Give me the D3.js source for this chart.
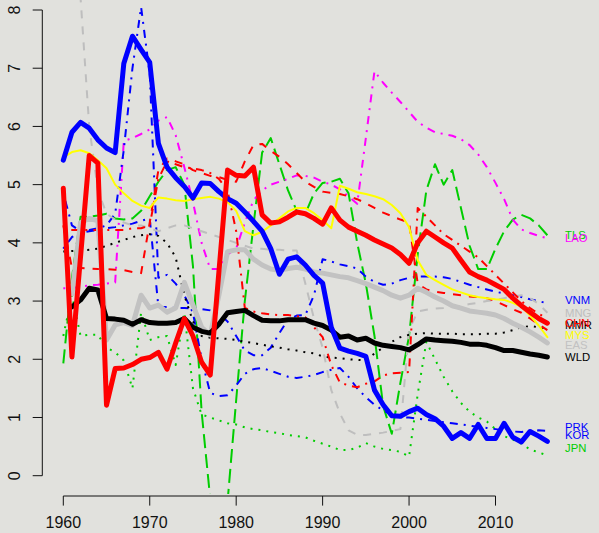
<!DOCTYPE html>
<html><head><meta charset="utf-8">
<script src="https://cdn.jsdelivr.net/npm/d3@7"></script>
<style>
html,body{margin:0;padding:0;background:#e1e1dd;}
svg{display:block;font-family:"Liberation Sans",Arial,sans-serif;}
</style></head><body>
<svg id="chart" width="599" height="533"></svg>
<script>
// years on the x axis
const years = d3.range(1960, 2017);
const xTicks = [1960, 1970, 1980, 1990, 2000, 2010];
const yTicks = [0, 1, 2, 3, 4, 5, 6, 7, 8];

// values, one per year 1960..2016
const TLS = [1.93,3.4,4.45,4.45,4.47,4.5,4.42,4.4,4.42,4.55,4.8,5.05,5.25,5.3,5.0,3.6,1.1,-0.4,-2.1,-0.45,
  1.3,3.0,4.3,5.55,5.8,5.35,4.9,4.55,4.5,4.85,5.03,5.05,5.1,4.85,4.0,3.3,2.4,1.2,0.72,1.6,
  2.4,3.8,4.9,5.35,5.0,5.25,4.6,3.95,3.55,3.55,3.9,4.2,4.4,4.48,4.42,4.3,4.13];
const LAO = [3.22,3.22,3.25,3.27,3.28,3.3,3.32,5.75,5.8,5.87,5.95,6.1,6.16,5.85,5.3,4.7,4.0,3.55,3.55,3.8,
  3.9,4.35,4.73,4.9,5.0,5.05,5.1,5.16,5.15,5.12,5.05,5.0,4.92,4.8,4.67,5.8,6.95,6.75,6.58,6.42,
  6.25,6.08,5.98,5.9,5.87,5.84,5.78,5.68,5.52,5.3,5.03,4.75,4.4,4.23,4.17,4.12,4.08];
const VNM = [3.9,4.1,4.17,4.2,4.22,4.25,4.27,4.3,4.33,4.38,4.42,2.9,2.9,2.88,2.88,2.87,2.86,2.84,2.78,2.65,
  2.4,2.15,2.07,2.07,2.2,2.45,2.68,2.75,2.76,3.1,3.72,3.68,3.63,3.6,3.56,3.42,3.33,3.28,3.3,3.36,
  3.4,3.42,3.42,3.42,3.41,3.38,3.33,3.28,3.24,3.2,3.16,3.13,3.1,3.07,3.03,3.0,2.96];
const PRK = [4.85,4.3,4.2,4.22,4.25,4.3,4.5,5.6,7.0,8.05,6.9,3.4,3.45,3.3,3.1,2.8,2.0,1.42,1.37,1.38,
  1.55,1.75,1.83,1.85,1.8,1.75,1.7,1.68,1.7,1.73,1.78,1.82,1.85,1.7,1.5,1.35,1.22,1.12,1.05,1.0,
  1.0,0.98,0.96,0.94,0.92,0.9,0.88,0.86,0.84,0.82,0.8,0.78,0.76,0.75,0.77,0.78,0.77];
const MNG = [11,9.5,8.2,6.0,4.9,4.5,4.4,4.35,4.3,4.3,4.25,4.2,4.25,4.3,4.3,4.25,4.2,4.15,4.1,4.05,
  4.0,3.95,3.9,3.9,3.88,3.88,3.87,3.87,3.3,2.7,2.2,1.47,1.07,0.78,0.7,0.7,0.72,0.74,0.77,0.8,
  2.5,2.82,2.85,2.87,2.88,2.9,2.92,2.95,2.97,3.0,3.02,3.05,3.08,3.1,3.05,2.95,2.8];
const MMR = [3.85,3.86,3.87,3.88,3.9,3.95,4.0,4.05,4.1,4.13,4.15,4.12,4.0,3.75,3.1,2.65,2.4,2.37,2.36,2.35,
  2.33,2.3,2.28,2.25,2.22,2.2,2.17,2.15,2.12,2.1,2.05,2.03,2.02,2.0,1.99,1.98,2.1,2.2,2.3,2.38,
  2.42,2.44,2.45,2.44,2.44,2.44,2.43,2.43,2.43,2.44,2.44,2.46,2.5,2.55,2.57,2.55,2.53];
const JPN = [2.4,3.1,2.4,2.42,2.42,2.2,2.12,1.98,1.5,2.8,2.33,2.38,2.4,1.9,2.8,1.5,1.05,1.0,0.95,0.9,
  0.88,0.83,0.8,0.78,0.75,0.73,0.7,0.68,0.66,0.6,0.55,0.5,0.44,0.44,0.48,0.56,0.5,0.46,0.44,0.41,
  0.33,1.4,2.3,2.0,1.7,1.45,1.25,1.1,1.0,0.93,0.8,0.68,0.62,0.55,0.45,0.4,0.35];
const RED_A = [4.3,3.57,3.57,3.56,3.55,3.55,3.54,3.53,3.5,3.48,4.35,5.25,5.45,5.4,5.35,5.25,5.2,5.15,5.13,5.08,
  5.05,5.4,5.68,5.7,5.58,5.48,5.35,5.2,5.05,4.96,4.88,4.86,4.84,4.8,4.75,4.68,4.6,4.52,4.46,4.4,
  4.35,3.3,3.2,3.16,3.14,3.12,3.1,3.08,3.07,3.05,3.0,2.93,2.86,2.8,2.7,2.6,2.5];
const RED_B = [4.22,4.22,4.22,4.22,4.22,4.22,4.22,4.22,4.25,4.25,4.3,5.1,5.4,5.35,5.3,5.28,5.25,5.2,5.1,4.9,
  4.2,2.88,2.82,2.79,2.77,2.76,2.76,2.74,2.72,2.55,2.38,1.9,1.6,1.55,1.52,1.58,1.62,1.72,1.76,1.77,
  1.78,4.6,4.45,4.3,4.15,4.05,3.95,3.85,3.75,3.6,3.45,3.3,3.15,3.0,2.88,2.78,2.7];
const EAS = [null,3.12,4.35,4.42,4.38,2.33,2.59,2.63,2.58,3.1,2.88,2.93,2.81,2.88,3.32,2.93,2.55,2.42,3.1,3.85,
  3.88,3.88,3.72,3.62,3.55,3.53,3.56,3.58,3.55,3.5,3.48,3.45,3.42,3.4,3.35,3.3,3.24,3.18,3.1,3.05,
  3.1,3.22,3.15,3.07,3.0,2.92,2.88,2.83,2.81,2.79,2.76,2.7,2.62,2.55,2.47,2.38,2.28];
const MYS = [5.47,5.56,5.59,5.54,5.42,5.28,5.0,4.85,4.72,4.64,4.6,4.78,4.76,4.73,4.72,4.75,4.77,4.79,4.76,4.7,
  4.55,4.2,4.13,4.19,4.3,4.42,4.54,4.6,4.6,4.51,4.39,4.25,4.98,4.93,4.87,4.84,4.8,4.75,4.65,4.51,
  4.27,3.7,3.45,3.36,3.28,3.2,3.15,3.1,3.07,3.05,3.03,3.02,2.97,2.9,2.75,2.58,2.38];
const WLD = [null,2.9,3.02,3.22,3.19,2.7,2.69,2.67,2.6,2.68,2.63,2.62,2.62,2.63,2.7,2.55,2.48,2.45,2.6,2.8,
  2.82,2.84,2.75,2.67,2.66,2.66,2.68,2.68,2.68,2.62,2.58,2.5,2.38,2.4,2.33,2.36,2.28,2.24,2.22,2.2,
  2.16,2.25,2.35,2.33,2.32,2.31,2.29,2.26,2.26,2.24,2.2,2.15,2.15,2.12,2.09,2.07,2.04];
const KOR = [5.42,5.9,6.07,5.97,5.77,5.63,5.55,7.08,7.55,7.32,7.1,5.71,5.3,5.12,4.97,4.77,5.03,5.02,4.88,4.76,
  4.68,4.53,4.37,4.2,3.9,3.46,3.72,3.76,3.62,3.44,3.31,2.55,2.19,2.14,2.1,2.05,1.47,1.22,1.03,1.02,
  1.1,1.16,1.05,0.98,0.85,0.64,0.74,0.64,0.88,0.64,0.64,0.9,0.66,0.58,0.76,0.68,0.59];
const CHN = [4.94,2.04,3.77,5.5,5.37,1.21,1.84,1.85,1.91,2.0,2.03,2.12,1.83,2.28,2.7,2.4,1.95,1.73,3.5,5.25,
  5.16,5.15,5.3,4.48,4.34,4.36,4.44,4.53,4.5,4.42,4.32,4.6,4.39,4.27,4.2,4.13,4.05,3.98,3.91,3.8,
  3.65,4.0,4.2,4.1,4.0,3.91,3.7,3.5,3.42,3.36,3.28,3.2,3.05,2.92,2.81,2.7,2.62];

// drawing order: thin lines first, thick aggregates on top
const series = [
  {name: 'TLS', values: TLS, color: '#00cd00', width: 2, dash: '14,6', label: true},
  {name: 'LAO', values: LAO, color: '#ff00ff', width: 2, dash: '2,6,8,6', label: true},
  {name: 'VNM', values: VNM, color: '#0000ff', width: 2, dash: '2,6,8,6', label: true},
  {name: 'PRK', values: PRK, color: '#0000ff', width: 2, dash: '2,6,8,6', label: true},
  {name: 'MNG', values: MNG, color: '#bebebe', width: 2, dash: '8,8', label: true},
  {name: 'MMR', values: MMR, color: '#000000', width: 2, dash: '2,6', label: true},
  {name: 'JPN', values: JPN, color: '#00cd00', width: 2, dash: '2,6', label: true},
  {name: 'RED_A', values: RED_A, color: '#ff0000', width: 2, dash: '8,8', label: false},
  {name: 'RED_B', values: RED_B, color: '#ff0000', width: 2, dash: '2,6,8,6', label: false},
  {name: 'EAS', values: EAS, color: '#c2c2c2', width: 5, dash: null, label: true},
  {name: 'MYS', values: MYS, color: '#ffff00', width: 2, dash: null, label: true},
  {name: 'WLD', values: WLD, color: '#000000', width: 5, dash: null, label: true},
  {name: 'KOR', values: KOR, color: '#0000ff', width: 5, dash: null, label: true},
  {name: 'CHN', values: CHN, color: '#ff0000', width: 5, dash: null, label: true}
];

// small vertical nudges (px) for end labels, as placed in the original
const labelNudge = {VNM: -3.5, MMR: -3, MYS: -2, EAS: 2.5, PRK: -3.5, KOR: -6, JPN: -7};

const svg = d3.select('#chart');
const x = d3.scaleLinear().domain([1960, 2010]).range([63.3, 495.5]);
const y = d3.scaleLinear().domain([0, 8]).range([475.7, 10]);

svg.append('defs').append('clipPath').attr('id', 'plot')
  .append('rect').attr('x', 44).attr('y', -10).attr('width', 522).attr('height', 504);

const line = d3.line()
  .defined(d => d.v != null)
  .x(d => x(d.year)).y(d => y(d.v));

const g = svg.append('g').attr('clip-path', 'url(#plot)');
series.forEach(s => {
  const pts = years.map((yr, i) => ({year: yr, v: s.values[i]}));
  g.append('path')
    .attr('d', line(pts))
    .attr('fill', 'none')
    .attr('stroke', s.color)
    .attr('stroke-width', s.width)
    .attr('stroke-dasharray', s.dash)
    .attr('stroke-linecap', s.dash ? 'butt' : 'round')
    .attr('stroke-linejoin', 'round');
});

// end labels at the last value of each series
series.filter(s => s.label).forEach(s => {
  svg.append('text')
    .attr('x', 565)
    .attr('y', y(s.values[s.values.length - 1]) + (labelNudge[s.name] || 0))
    .attr('dy', '0.35em')
    .attr('font-size', 11.3)
    .attr('fill', s.color)
    .text(s.name);
});

// axes
const axisCol = '#111';
const xa = svg.append('g');
xa.append('line').attr('x1', x(1960)).attr('x2', x(2010)).attr('y1', 496).attr('y2', 496)
  .attr('stroke', axisCol);
xTicks.forEach(t => {
  xa.append('line').attr('x1', x(t)).attr('x2', x(t)).attr('y1', 496).attr('y2', 505.6)
    .attr('stroke', axisCol);
  xa.append('text').attr('x', x(t)).attr('y', 528).attr('text-anchor', 'middle')
    .attr('font-size', 16).attr('fill', axisCol).text(t);
});

const ya = svg.append('g');
ya.append('line').attr('x1', 42.3).attr('x2', 42.3).attr('y1', y(0)).attr('y2', y(8))
  .attr('stroke', axisCol);
yTicks.forEach(t => {
  ya.append('line').attr('x1', 32.7).attr('x2', 42.3).attr('y1', y(t)).attr('y2', y(t))
    .attr('stroke', axisCol);
  ya.append('text').attr('transform', `translate(20,${y(t)}) rotate(-90)`)
    .attr('text-anchor', 'middle').attr('font-size', 16).attr('fill', axisCol).text(t);
});
</script>
</body></html>
